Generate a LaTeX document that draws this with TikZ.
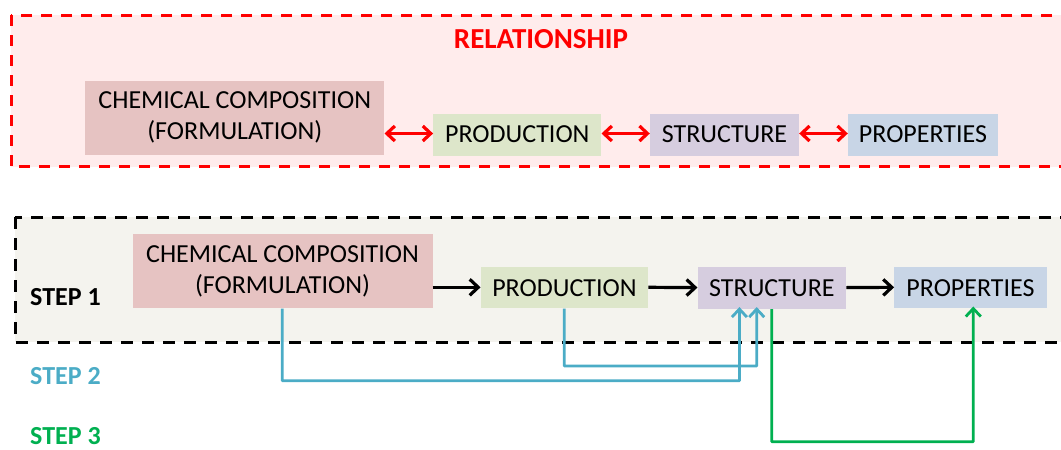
\documentclass[tikz,border=0pt]{standalone}
\usepackage{fontspec}
\setmainfont{Carlito}
\usetikzlibrary{arrows.meta}

\definecolor{relred}{HTML}{FF0000}
\definecolor{relfill}{HTML}{FFECEC}
\definecolor{stepfill}{HTML}{F4F3EE}
\definecolor{chemfill}{HTML}{E6C3C2}
\definecolor{prodfill}{HTML}{DDE6CA}
\definecolor{strucfill}{HTML}{D6CDDF}
\definecolor{propfill}{HTML}{C8D5E6}
\definecolor{steptwo}{HTML}{4BACC6}
\definecolor{stepthree}{HTML}{00B050}

\tikzset{
  boxtext/.style={font=\fontsize{26}{31.7}\selectfont, align=center, inner sep=0pt, text=black},
  chembox/.style={boxtext, fill=chemfill, minimum width=299pt, minimum height=74pt},
  smallbox/.style={boxtext, minimum height=42pt},
  steplabel/.style={font=\bfseries\fontsize{26}{30}\selectfont, anchor=base west, inner sep=0pt},
  relframe/.style={draw=relred, fill=relfill, line width=3pt, dash pattern=on 11pt off 9pt},
  stepframe/.style={draw=black, fill=stepfill, line width=3pt, dash pattern=on 12pt off 9pt},
  relarrow/.style={draw=relred, line width=3.2pt,
    {Straight Barb[length=8pt,width=15pt,line width=3.2pt]}-{Straight Barb[length=8pt,width=15pt,line width=3.2pt]}},
  flowarrow/.style={draw=black, line width=3.2pt, -{Straight Barb[length=8.5pt,width=16pt,line width=3.2pt]}},
  backlink/.style={line width=2.8pt, rounded corners=0.5pt, -{Straight Barb[length=8pt,width=15pt,line width=2.8pt]}},
}

\begin{document}
\begin{tikzpicture}[x=1pt, y=-1pt]
\useasboundingbox (0,0) rectangle (1061,450);
\clip (0,0) rectangle (1061,450);

% relationship frame
\draw[relframe] (11,15) rectangle (1080,166.7);
\node[font=\bfseries\fontsize{29}{34}\selectfont, text=relred, anchor=base, inner sep=0pt]
  (reltitle) at (541,48.3) {RELATIONSHIP};

\node[chembox] (tc) at (234.8,117.5) {CHEMICAL COMPOSITION\\(FORMULATION)};
\node[smallbox, fill=prodfill, minimum width=168pt] (tp) at (517.3,134.5) {PRODUCTION};
\node[smallbox, fill=strucfill, minimum width=149pt] (ts) at (724.5,134.5) {STRUCTURE};
\node[smallbox, fill=propfill, minimum width=150pt] (tr) at (923,134.5) {PROPERTIES};

\draw[relarrow] ([yshift=1pt]tc.east |- tp.west) -- ([yshift=1pt]tp.west);
\draw[relarrow] ([yshift=1pt]tp.east) -- ([yshift=1pt]ts.west);
\draw[relarrow] ([yshift=1pt]ts.east) -- ([yshift=1pt]tr.west);

% step frame
\draw[stepframe] (15,217.3) rectangle (1080,342.3);

\node[steplabel] (s1) at (30,305) {STEP 1};
\node[steplabel, text=steptwo] (s2) at (30,384.3) {STEP 2};
\node[steplabel, text=stepthree] (s3) at (30,444) {STEP 3};

\node[chembox, minimum width=300pt] (bc) at (282.5,271.3) {CHEMICAL COMPOSITION\\(FORMULATION)};
\node[smallbox, fill=prodfill, minimum width=167.5pt, minimum height=41pt] (bp) at (564.5,287.8) {PRODUCTION};
\node[smallbox, fill=strucfill, minimum width=148.5pt, minimum height=41.5pt] (bs) at (771.9,288.1) {STRUCTURE};
\node[smallbox, fill=propfill, minimum width=152.4pt, minimum height=41pt] (br) at (970.5,287.8) {PROPERTIES};

\draw[flowarrow] ([yshift=0.5pt]bc.east |- bp.west) -- ([yshift=0.5pt]bp.west);
\draw[flowarrow] ([yshift=0.5pt]bp.east) -- ([yshift=0.5pt]bs.west);
\draw[flowarrow] ([yshift=0.5pt]bs.east) -- ([yshift=0.5pt]br.west);

% step 2: composition and production feed the structure
\coordinate (c2a) at (282.3,380.7);
\coordinate (c2b) at (564.3,366);
\draw[backlink, draw=steptwo] (bc.south -| c2a) -- (c2a) -| ([xshift=-32.5pt,yshift=2pt]bs.south);
\draw[backlink, draw=steptwo] (bp.south -| c2b) -- (c2b) -| ([xshift=-15.2pt,yshift=2pt]bs.south);

% step 3: structure determines the properties
\coordinate (c3) at (771.7,441.7);
\draw[backlink, draw=stepthree] (bs.south -| c3) -- (c3) -| ([xshift=2.8pt,yshift=2pt]br.south);
\end{tikzpicture}
\end{document}
